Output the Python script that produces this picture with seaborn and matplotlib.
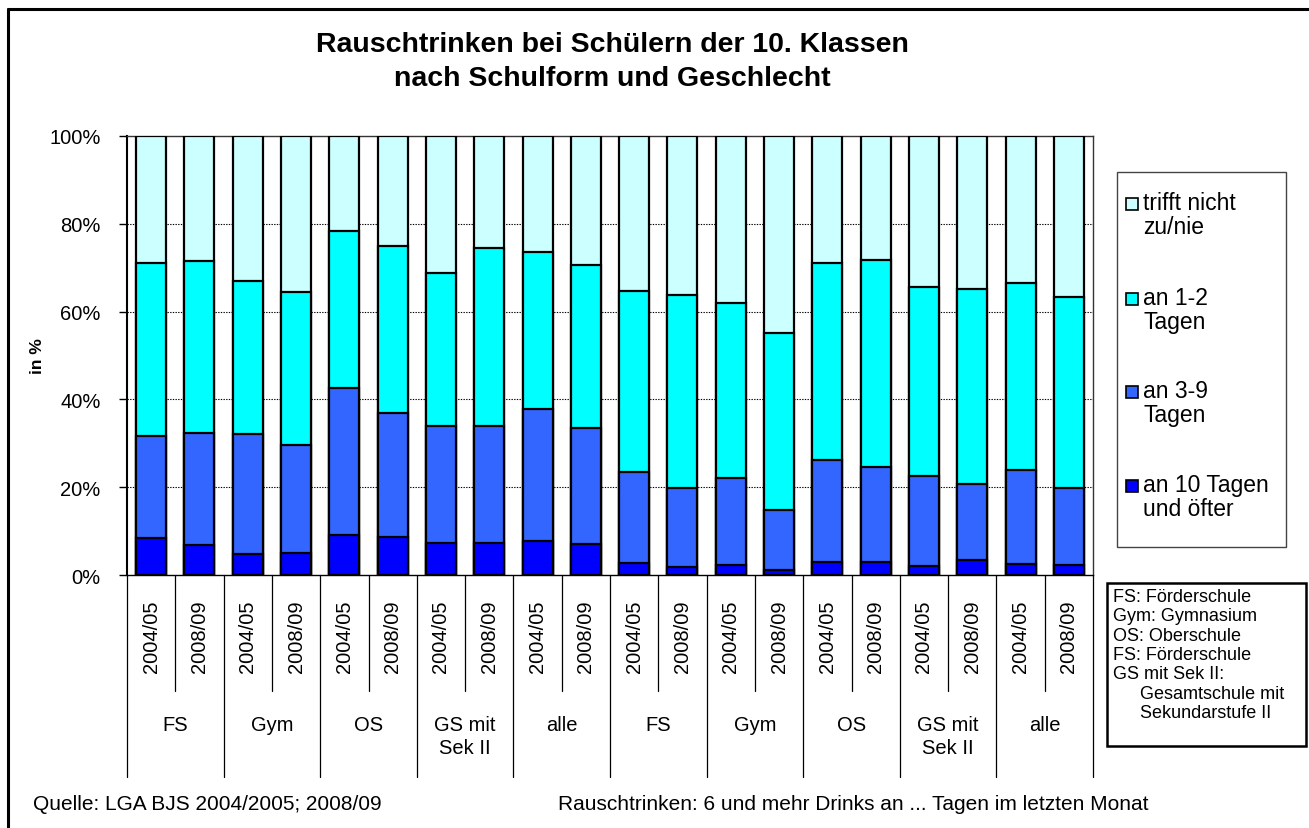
import numpy as np
import pandas as pd
import matplotlib
matplotlib.use('Agg')
import matplotlib.pyplot as plt
from matplotlib.patches import Rectangle
from matplotlib.lines import Line2D
import matplotlib.transforms as mtransforms
import seaborn as sns

# Daten (Anteile in %, je Balken)
schulform = ['FS', 'Gym', 'OS', 'GS mit\nSek II', 'alle'] * 2
jahre = ['2004/05', '2008/09']
an_10_tagen = [8.5, 6.8, 4.7, 5.1, 9.2, 8.6, 7.2, 7.4, 7.7, 7.0,
               2.8, 1.9, 2.2, 1.1, 3.0, 3.0, 2.0, 3.4, 2.4, 2.2]
an_3_9_tagen = [23.1, 25.6, 27.5, 24.4, 33.5, 28.4, 26.8, 26.6, 30.1, 26.5,
                20.6, 18.0, 19.8, 13.8, 23.3, 21.6, 20.6, 17.3, 21.6, 17.6]
an_1_2_tagen = [39.4, 39.1, 34.7, 34.9, 35.7, 37.9, 34.8, 40.4, 35.7, 37.1,
                41.2, 43.8, 40.0, 40.2, 44.7, 47.1, 43.0, 44.4, 42.5, 43.6]
trifft_nicht = [29.0, 28.5, 33.1, 35.6, 21.6, 25.1, 31.2, 25.6, 26.5, 29.4,
                35.4, 36.3, 38.0, 44.9, 29.0, 28.3, 34.4, 34.9, 33.5, 36.6]

labels = ['trifft nicht\nzu/nie', 'an 1-2\nTagen', 'an 3-9\nTagen', 'an 10 Tagen\nund öfter']
farben = ['#CCFFFF', '#00FFFF', '#3366FF', '#0000FF']

W, H = 1309, 829

sns.set_style('white')
plt.rcParams['font.family'] = ['Liberation Sans', 'DejaVu Sans']
plt.rcParams['text.color'] = 'black'
plt.rcParams['axes.labelcolor'] = 'black'
plt.rcParams['ytick.color'] = 'black'
plt.rcParams['xtick.color'] = 'black'

n = len(an_10_tagen)
df = pd.DataFrame({
    'bar': [str(i) for i in range(n)],
    'jahr': [jahre[i % 2] for i in range(n)],
    'l1': an_10_tagen,
    'l2': an_3_9_tagen,
    'l3': an_1_2_tagen,
    'l4': trifft_nicht,
})
df['c1'] = df['l1']
df['c2'] = df['c1'] + df['l2']
df['c3'] = df['c2'] + df['l3']
df['c4'] = df['c3'] + df['l4']

fig = plt.figure(figsize=(W / 100, H / 100), dpi=100)
ax = fig.add_axes([127 / W, 1 - 576 / H, (1093 - 127) / W, (576 - 137) / H])

# gestapelt: von oben nach unten überlagert zeichnen
for col, farbe in zip(['c4', 'c3', 'c2', 'c1'], farben):
    sns.barplot(data=df, x='bar', y=col, order=df['bar'].tolist(), color=farbe,
                saturation=1, width=0.62, edgecolor='black', linewidth=1.6,
                errorbar=None, ax=ax, zorder=3)

ax.set_xlim(-0.5, n - 0.5)
ax.set_ylim(0, 100)
ax.set_yticks([0, 20, 40, 60, 80, 100])
ax.set_yticklabels([f'{v}%' for v in range(0, 101, 20)], fontsize=14.5)
ax.tick_params(axis='y', direction='out', length=6, width=1, pad=13, left=True)
ax.set_xticks([])
ax.set_xlabel('')
ax.set_ylabel('')
for v in [20, 40, 60, 80]:
    ax.axhline(v, color='black', lw=0.8, ls=(0, (1.2, 1.2)), zorder=1)
for side in ['top', 'right', 'bottom']:
    ax.spines[side].set_color('#333333')
    ax.spines[side].set_linewidth(1)
ax.spines['left'].set_color('black')
ax.spines['left'].set_linewidth(1.5)
ax.spines['bottom'].set_color('black')

# mehrstufige x-Achse
trans = mtransforms.blended_transform_factory(ax.transData, ax.transAxes)
y_kurz = (576 - 692) / 439
y_lang = (576 - 778) / 439
for i in range(n + 1):
    y_end = y_lang if i % 2 == 0 else y_kurz
    ax.add_line(Line2D([i - 0.5, i - 0.5], [0, y_end], transform=trans,
                       color='black', lw=0.9, clip_on=False))
for i in range(n):
    ax.text(i, (576 - 637) / 439, df['jahr'][i], transform=trans, rotation=90,
            ha='center', va='center', fontsize=14.5)
for g in range(n // 2):
    ax.text(2 * g + 0.5, (576 - 716) / 439, schulform[g], transform=trans,
            ha='center', va='top', fontsize=14.5, linespacing=1.25)

fig.text(612 / W, 1 - 62 / H,
         'Rauschtrinken bei Schülern der 10. Klassen\nnach Schulform und Geschlecht',
         ha='center', va='center', fontsize=20.5, fontweight='bold', linespacing=1.35)
fig.text(38 / W, 1 - 356 / H, 'in %', rotation=90, ha='center', va='center',
         fontsize=12.5, fontweight='bold')

# Legende
fig.add_artist(Rectangle((1117 / W, 1 - 548 / H), (1286 - 1117) / W, (548 - 173) / H,
                         transform=fig.transFigure, fill=False, ec='#444444', lw=1))
for y0, lab, farbe in zip([205, 300, 393, 487], labels, farben):
    fig.add_artist(Rectangle((1126 / W, 1 - (y0 + 6) / H), 12 / W, 12 / H,
                             transform=fig.transFigure, fc=farbe, ec='black', lw=1.2))
    fig.text(1143 / W, 1 - (y0 - 13) / H, lab, ha='left', va='top',
             fontsize=16.5, linespacing=1.05)

# Abkürzungen
fig.add_artist(Rectangle((1107 / W, 1 - 747 / H), (1306 - 1107) / W, (747 - 584) / H,
                         transform=fig.transFigure, fill=False, ec='black', lw=1.8))
fig.text(1113 / W, 1 - 589 / H,
         'FS: Förderschule\nGym: Gymnasium\nOS: Oberschule\nFS: Förderschule\nGS mit Sek II:',
         ha='left', va='top', fontsize=13, linespacing=1.18)
fig.text(1140 / W, 1 - 686 / H, 'Gesamtschule mit\nSekundarstufe II',
         ha='left', va='top', fontsize=13, linespacing=1.18)

fig.text(33 / W, 1 - 805 / H, 'Quelle: LGA BJS 2004/2005; 2008/09',
         ha='left', va='center', fontsize=15)
fig.text(1148 / W, 1 - 805 / H,
         'Rauschtrinken: 6 und mehr Drinks an ... Tagen im letzten Monat',
         ha='right', va='center', fontsize=15)

# Rahmen
fig.add_artist(Line2D([8 / W, 1], [1 - 10 / H, 1 - 10 / H], transform=fig.transFigure,
                      color='black', lw=2.2))
fig.add_artist(Line2D([8 / W, 8 / W], [0, 1 - 10 / H], transform=fig.transFigure,
                      color='black', lw=2.2))

fig.savefig('out.png', dpi=100)
